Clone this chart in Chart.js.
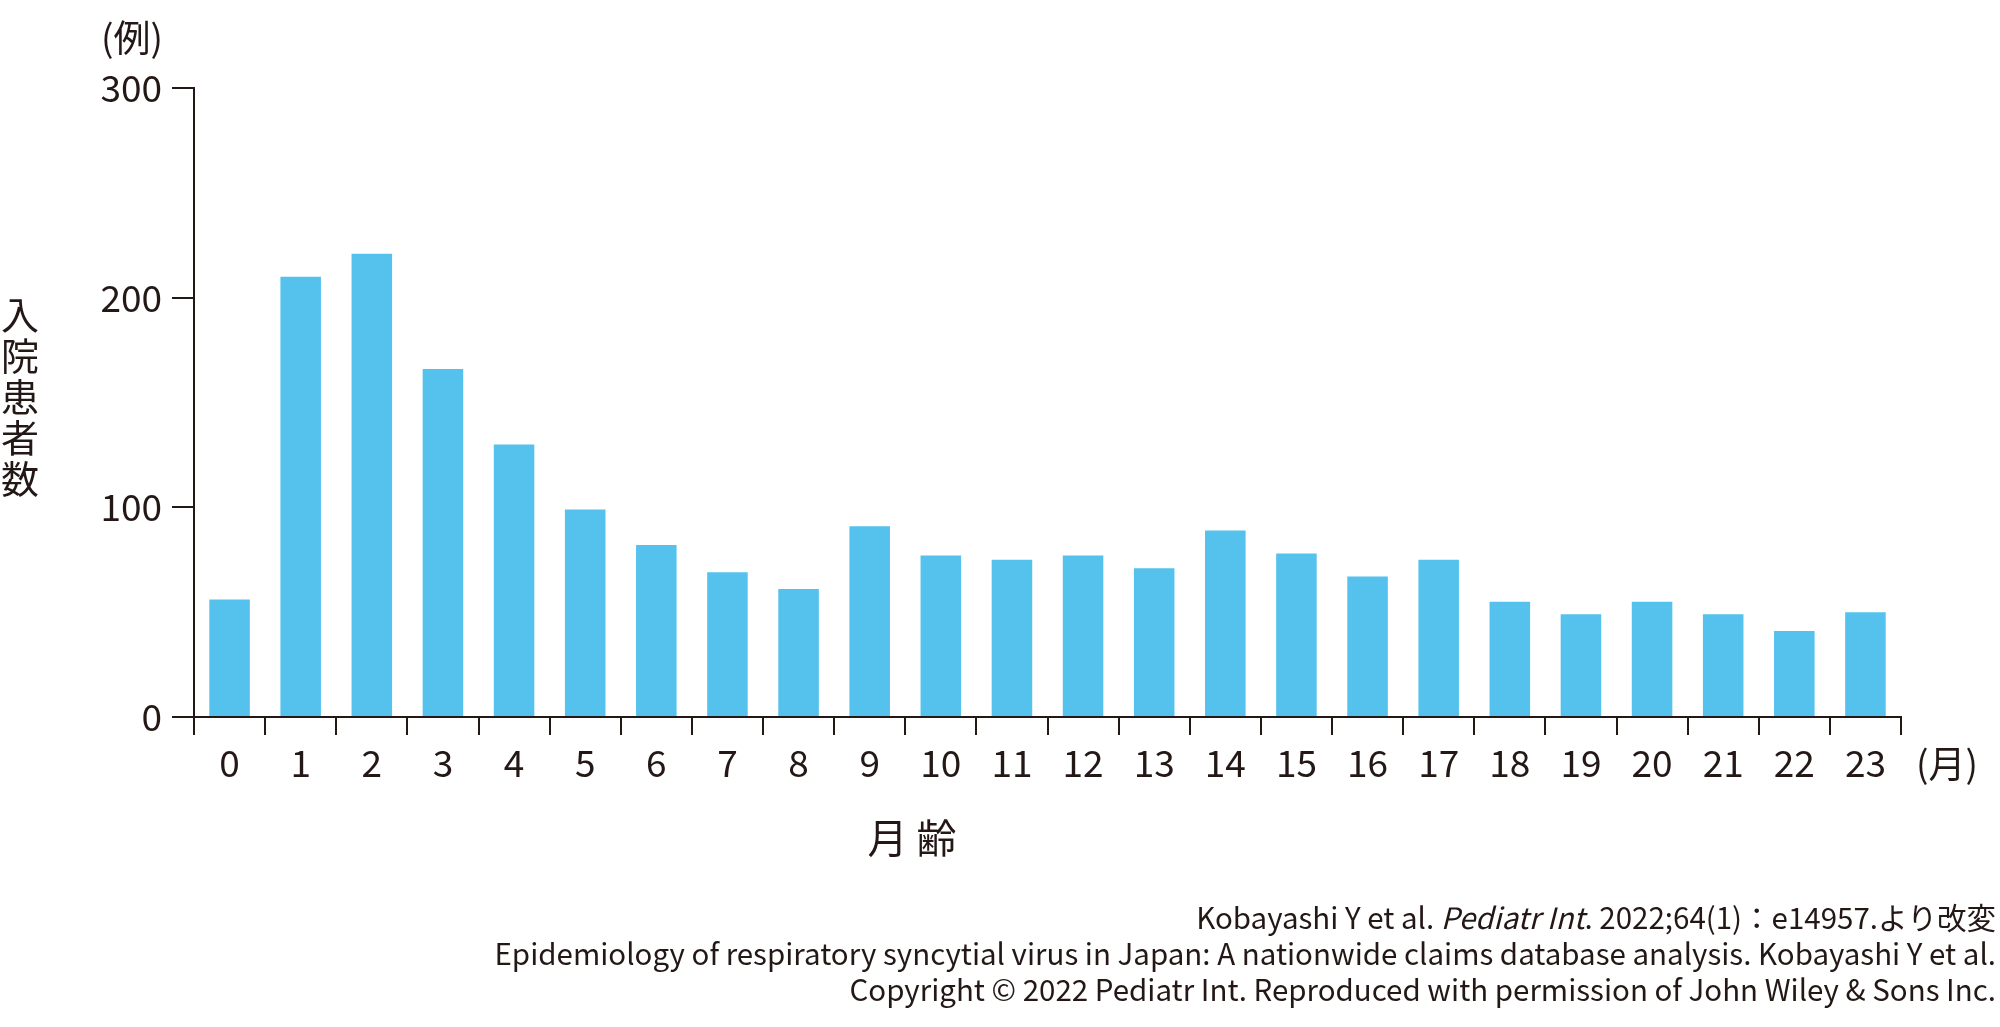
<!DOCTYPE html>
<html>
<head>
<meta charset="utf-8">
<script src="https://cdn.jsdelivr.net/npm/chart.js@4/dist/chart.umd.min.js"></script>
<style>
  html, body { margin: 0; padding: 0; background: #fff; }
  canvas { display: block; }
</style>
</head>
<body>
<canvas id="rsvChart" width="2000" height="1027"></canvas>
<script>
// 月齢（0〜23か月）
const months = ['0','1','2','3','4','5','6','7','8','9','10','11','12','13','14','15','16','17','18','19','20','21','22','23'];
// 入院患者数（例）
const patients = [56, 210, 221, 166, 130, 99, 82, 69, 61, 91, 77, 75, 77, 71, 89, 78, 67, 75, 55, 49, 55, 49, 41, 50];
const yTicks = [0, 100, 200, 300];

const ink = '#231815';
const barColor = '#55C2EE';
const fontFamily = '"Noto Sans CJK JP", "Noto Sans", sans-serif';

const yTitle = ['入', '院', '患', '者', '数'];
const footNotes = [
    [['Kobayashi Y et al. ', false], ['Pediatr Int', true], ['. 2022;64(1)：e14957.より改変', false]],
    [['Epidemiology of respiratory syncytial virus in Japan: A nationwide claims database analysis. Kobayashi Y et al.', false]],
    [['Copyright © 2022 Pediatr Int. Reproduced with permission of John Wiley & Sons Inc.', false]]
];

// 軸ラベル・出典の描画
const textPlugin = {
    id: 'extraText',
    afterDraw(chart) {
        const ctx = chart.ctx;
        ctx.save();
        ctx.fillStyle = ink;
        ctx.textBaseline = 'middle';

        ctx.font = '37px ' + fontFamily;
        ctx.textAlign = 'center';
        ctx.fillText('(例)', 132, 38);
        ctx.fillText('(月)', 1947, 764);

        ctx.font = '38px ' + fontFamily;
        yTitle.forEach((ch, i) => ctx.fillText(ch, 20, 315 + i * 41));

        ctx.font = '40px ' + fontFamily;
        ctx.fillText('月 齢', 912, 838);

        // 出典（右揃え）
        ctx.textAlign = 'left';
        footNotes.forEach((parts, row) => {
            const fonts = parts.map(p => (p[1] ? 'italic ' : '') + '29.5px ' + fontFamily);
            let total = 0;
            parts.forEach((p, i) => { ctx.font = fonts[i]; total += ctx.measureText(p[0]).width; });
            let x = 1996 - total;
            parts.forEach((p, i) => {
                ctx.font = fonts[i];
                ctx.fillText(p[0], x, 918 + row * 36);
                x += ctx.measureText(p[0]).width;
            });
        });
        ctx.restore();
    }
};

const ctx = document.getElementById('rsvChart').getContext('2d');
new Chart(ctx, {
    type: 'bar',
    data: {
        labels: months,
        datasets: [{
            data: patients,
            backgroundColor: barColor,
            barPercentage: 0.57,
            categoryPercentage: 1.0
        }]
    },
    options: {
        responsive: false,
        animation: false,
        devicePixelRatio: 1,
        layout: { padding: { top: 88, right: 99, left: 0, bottom: 0 } },
        plugins: {
            legend: { display: false },
            tooltip: { enabled: false }
        },
        scales: {
            x: {
                grid: { offset: true, drawOnChartArea: false, tickLength: 18, color: ink, lineWidth: 2 },
                border: { display: true, color: ink, width: 2 },
                ticks: {
                    color: ink,
                    font: { family: fontFamily, size: 37 },
                    padding: 6,
                    maxRotation: 0,
                    autoSkip: false
                },
                afterFit: scale => { scale.height = 310; }
            },
            y: {
                min: 0,
                max: 300,
                afterBuildTicks: scale => { scale.ticks = yTicks.map(v => ({ value: v })); },
                grid: { drawOnChartArea: false, tickLength: 22, color: ink, lineWidth: 2 },
                border: { display: true, color: ink, width: 2 },
                ticks: {
                    color: ink,
                    font: { family: fontFamily, size: 37 },
                    padding: 10
                },
                afterFit: scale => { scale.width = 194; }
            }
        }
    },
    plugins: [textPlugin]
});
</script>
</body>
</html>
